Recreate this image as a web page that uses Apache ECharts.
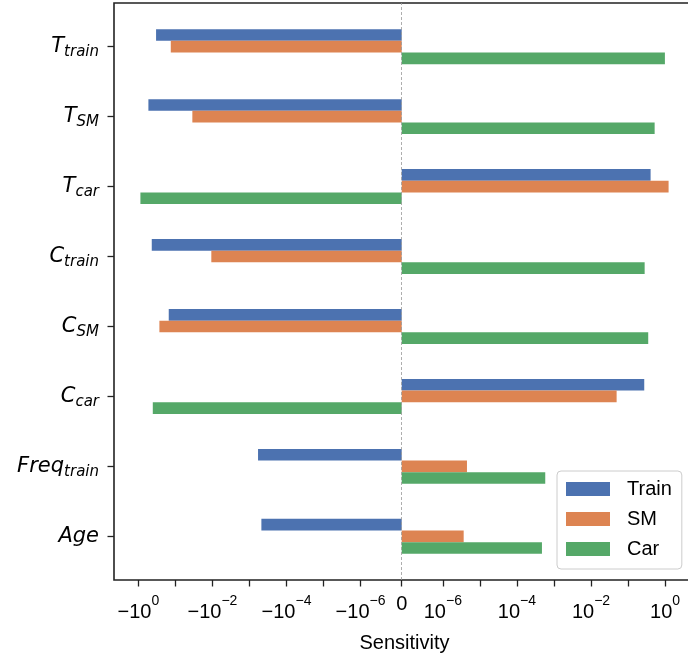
<!DOCTYPE html>
<html><head><meta charset="utf-8">
<script src="https://cdn.jsdelivr.net/npm/echarts@6/dist/echarts.min.js"></script>
<style>html,body{margin:0;padding:0;background:#fff}#c{width:688px;height:657px}</style>
</head><body><div id="c"></div>
<script>
// ---- data ----
const categories = ['T_train', 'T_SM', 'T_car', 'C_train', 'C_SM', 'C_car', 'Freq_train', 'Age'];
const catMain = ['T', 'T', 'T', 'C', 'C', 'C', 'Freq', 'Age'];
const catSub = ['train', 'SM', 'car', 'train', 'SM', 'car', 'train', ''];
const seriesNames = ['Train', 'SM', 'Car'];
const trainValues = [-0.332, -0.535, 0.407, -0.434, -0.151, 0.274, -5.86e-4, -4.76e-4];
const smValues = [-0.133, -0.0348, 1.245, -0.0107, -0.270, 0.0492, 4.48e-6, 3.65e-6];
const carValues = [0.99, 0.523, -0.879, 0.281, 0.351, -0.407, 5.82e-4, 4.74e-4];
const tickExponents = [0, -1, -2, -3, -4, -5, -6];
const labelExponents = [0, -2, -4, -6];
const xAxisName = 'Sensitivity';
const colors = ['#4C72B0', '#DD8452', '#55A868'];

// ---- symlog scale (linthresh 1e-6, linscale 1, base 10) ----
const LINTHRESH = 1e-6;
const LINSCALE_ADJ = 1 / (1 - 1 / 10);
function symlog(x) {
  const a = Math.abs(x);
  if (a <= LINTHRESH) return x / LINTHRESH * LINSCALE_ADJ;
  return Math.sign(x) * (LINSCALE_ADJ + Math.log10(a / LINTHRESH));
}

const allT = [].concat(trainValues, smValues, carValues).map(symlog);
const tMin0 = Math.min(0, ...allT), tMax0 = Math.max(0, ...allT);
const marg = (tMax0 - tMin0) * 0.05;
const xMin = tMin0 - marg, xMax = tMax0 + marg;

const tickVals = [0];
tickExponents.forEach(e => { tickVals.push(symlog(Math.pow(10, e))); tickVals.push(symlog(-Math.pow(10, e))); });
const labelVals = [0];
const labelText = {};
labelExponents.forEach(e => {
  const p = symlog(Math.pow(10, e)), n = symlog(-Math.pow(10, e));
  const es = String(e).replace('-', '\u2212');
  labelVals.push(p, n);
  labelText[p.toFixed(4)] = '{n|10}{e|' + es + '}';
  labelText[n.toFixed(4)] = '{n|\u221210}{e|' + es + '}';
});
labelText[(0).toFixed(4)] = '{z|0}';

const chart = echarts.init(document.getElementById('c'), null, {renderer: 'canvas'});
const GL = 114, GR = -7;
const tickStyle = {color: '#222', width: 1.3};
const option = {
  animation: false,
  backgroundColor: '#fff',
  color: colors,
  grid: [
    {left: GL, right: GR, top: 3, bottom: 77, containLabel: false, outerBoundsMode: 'none', show: true, borderColor: '#222', borderWidth: 1.6, backgroundColor: 'transparent'},
    {left: GL, right: GR, top: 11.7, bottom: 85.7, containLabel: false, outerBoundsMode: 'none'}
  ],
  legend: {
    data: seriesNames,
    orient: 'vertical',
    left: 557, top: 471,
    icon: 'rect',
    itemWidth: 44, itemHeight: 14, itemGap: 10,
    padding: [8, 10, 10, 9],
    backgroundColor: 'rgba(255,255,255,0.85)',
    borderColor: '#cccccc', borderWidth: 1, borderRadius: 4,
    textStyle: {fontFamily: 'Liberation Sans', fontSize: 20, color: '#000', lineHeight: 20, padding: [0, 0, 0, 12]}
  },
  xAxis: [
    {
      type: 'value', gridIndex: 0, min: xMin, max: xMax,
      name: xAxisName, nameLocation: 'middle', nameGap: 53,
      nameTextStyle: {fontFamily: 'Liberation Sans', fontSize: 20, color: '#000', lineHeight: 20},
      axisLine: {show: false, onZero: false},
      splitLine: {show: false},
      axisTick: {show: true, inside: false, length: 6.5, lineStyle: tickStyle, customValues: tickVals},
      axisLabel: {
        show: true, margin: 14, customValues: labelVals,
        formatter: v => labelText[v.toFixed(4)] || '',
        rich: {
          n: {fontFamily: 'Liberation Sans', fontSize: 20, lineHeight: 36, color: '#000'},
          e: {fontFamily: 'Liberation Sans', fontSize: 14, lineHeight: 10, verticalAlign: 'top', color: '#000'},
          z: {fontFamily: 'Liberation Sans', fontSize: 20, lineHeight: 16, verticalAlign: 'top', color: '#000'}
        }
      }
    },
    {type: 'value', gridIndex: 1, min: xMin, max: xMax, show: false, splitLine: {show: false}}
  ],
  yAxis: [
    {type: 'value', gridIndex: 0, min: 0, max: 1, show: false, splitLine: {show: false}},
    {
      type: 'category', gridIndex: 1, inverse: true, data: categories, position: 'left',
      axisLine: {show: false, onZero: false},
      axisTick: {show: true, alignWithLabel: true, length: 6.5, lineStyle: tickStyle},
      splitLine: {show: false},
      axisLabel: {
        margin: 15,
        formatter: (v, i) => catSub[i] ? '{m|' + catMain[i] + '}{s|' + catSub[i] + '}' : '{m|' + catMain[i] + '}',
        rich: {
          m: {fontFamily: 'DejaVu Sans', fontStyle: 'italic', fontSize: 21, lineHeight: 26, color: '#000'},
          s: {fontFamily: 'DejaVu Sans', fontStyle: 'italic', fontSize: 15, lineHeight: 15, verticalAlign: 'bottom', color: '#000'}
        }
      }
    }
  ],
  series: [
    {name: 'Train', type: 'bar', xAxisIndex: 1, yAxisIndex: 1, data: trainValues.map(symlog), barGap: '0%', barCategoryGap: '50%', itemStyle: {color: colors[0]}},
    {name: 'SM', type: 'bar', xAxisIndex: 1, yAxisIndex: 1, data: smValues.map(symlog), barGap: '0%', barCategoryGap: '50%', itemStyle: {color: colors[1]}},
    {name: 'Car', type: 'bar', xAxisIndex: 1, yAxisIndex: 1, data: carValues.map(symlog), barGap: '0%', barCategoryGap: '50%', itemStyle: {color: colors[2]}},
    {
      type: 'line', xAxisIndex: 0, yAxisIndex: 0, data: [], z: 5,
      markLine: {
        silent: true, symbol: ['none', 'none'], label: {show: false},
        lineStyle: {color: '#999', type: [3, 2], width: 0.8},
        data: [{xAxis: 0}]
      }
    }
  ]
};
chart.setOption(option);
</script>
</body></html>
